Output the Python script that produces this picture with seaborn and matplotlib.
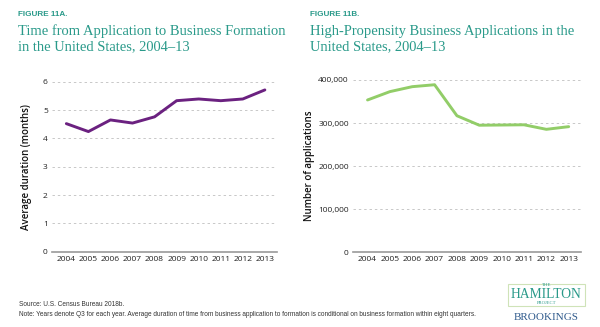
import matplotlib
matplotlib.use("Agg")
import matplotlib.pyplot as plt
import seaborn as sns
import pandas as pd
from matplotlib.patches import Rectangle

years = [2004, 2005, 2006, 2007, 2008, 2009, 2010, 2011, 2012, 2013]
duration_months = [4.52, 4.24, 4.65, 4.54, 4.76, 5.33, 5.39, 5.33, 5.39, 5.71]
applications = [353600, 373000, 384500, 389000, 317000, 295000, 295500, 296000, 285500, 291700]
left_yticks = [0, 1, 2, 3, 4, 5, 6]
right_yticks = [0, 100000, 200000, 300000, 400000]
right_yticklabels = ["0", "100,000", "200,000", "300,000", "400,000"]

sns.set_theme(style="white")
plt.rcParams['font.family'] = ['Open Sans', 'DejaVu Sans']

TEAL = "#2a9a8a"
PURPLE = "#6b2180"
GREEN = "#92cd68"
GRID = "#c8c8c8"
AXIS = "#999999"

df_a = pd.DataFrame({"year": years, "value": duration_months})
df_b = pd.DataFrame({"year": years, "value": applications})

fig = plt.figure(figsize=(6, 3.27), dpi=100)
W, H = 600, 327

def px(x0, y0, x1, y1):
    return [x0 / W, 1 - y1 / H, (x1 - x0) / W, (y1 - y0) / H]

ax1 = fig.add_axes(px(52, 81.7, 277, 251.7))
ax2 = fig.add_axes(px(353, 80, 581, 252.3))

def style(ax, data, color, yticks, ylim, ylabel, ylabels=None):
    sns.lineplot(data=data, x="year", y="value", ax=ax, color=color, linewidth=2.1)
    ax.set_xlim(years[0] - 0.65, years[-1] + 0.55)
    ax.set_ylim(*ylim)
    ax.set_yticks(yticks)
    if ylabels is not None:
        ax.set_yticklabels(ylabels)
    ax.set_xticks(years)
    ax.set_xticklabels([str(y) for y in years])
    ax.tick_params(axis='both', labelsize=6, colors="#222222", length=0, pad=3)
    for s in ["top", "right", "left"]:
        ax.spines[s].set_visible(False)
    ax.spines["bottom"].set_color(AXIS)
    ax.spines["bottom"].set_linewidth(1.2)
    for t in yticks[1:]:
        ax.axhline(t, color=GRID, linewidth=0.7, linestyle=(0, (2.5, 3)), zorder=0)
    ax.set_xlabel("")
    ax.set_ylabel(ylabel, fontsize=7, color="#111111", labelpad=4, weight="semibold")
    ax.set_facecolor("none")

style(ax1, df_a, PURPLE, left_yticks, (0, 6.0), "Average duration (months)")
style(ax2, df_b, GREEN, right_yticks, (0, 400000), "Number of applications", right_yticklabels)
ax1.yaxis.set_label_coords(-0.09, 0.5)
ax2.yaxis.set_label_coords(-0.166, 0.5)

serif = ['Liberation Serif', 'DejaVu Serif']
TS = 10.45
fig.text(18 / W, 1 - 15 / H, "FIGURE 11A.", fontsize=5.9, color=TEAL, weight="bold",
         va="center", ha="left", family=['Liberation Sans', 'DejaVu Sans'])
fig.text(18 / W, 1 - 31 / H, "Time from Application to Business Formation", fontsize=TS,
         color=TEAL, va="center", ha="left", family=serif)
fig.text(18 / W, 1 - 47 / H, "in the United States, 2004\u201313", fontsize=TS,
         color=TEAL, va="center", ha="left", family=serif)
fig.text(310 / W, 1 - 15 / H, "FIGURE 11B.", fontsize=5.9, color=TEAL, weight="bold",
         va="center", ha="left", family=['Liberation Sans', 'DejaVu Sans'])
fig.text(310 / W, 1 - 31 / H, "High-Propensity Business Applications in the", fontsize=TS,
         color=TEAL, va="center", ha="left", family=serif)
fig.text(310 / W, 1 - 47 / H, "United States, 2004\u201313", fontsize=TS,
         color=TEAL, va="center", ha="left", family=serif)

fig.text(19 / W, 1 - 304.5 / H, "Source: U.S. Census Bureau 2018b.", fontsize=4.7,
         color="#333333", va="center", ha="left", family=['Liberation Sans', 'DejaVu Sans'])
fig.text(19 / W, 1 - 315 / H,
         "Note: Years denote Q3 for each year. Average duration of time from business application to formation is conditional on business formation within eight quarters.",
         fontsize=4.7, color="#333333", va="center", ha="left", family=['Liberation Sans', 'DejaVu Sans'])

# logo
fig.patches.append(Rectangle((508 / W, 1 - 306 / H), 77 / W, 22 / H, transform=fig.transFigure,
                             fill=False, edgecolor="#cfe3b8", linewidth=0.8))
fig.text(546.5 / W, 1 - 285.5 / H, "THE", fontsize=3.5, color=TEAL, ha="center", va="center", family=serif)
fig.text(546.5 / W, 1 - 294.5 / H, "HAMILTON", fontsize=9.8, color=TEAL, ha="center", va="center", family=serif)
fig.text(546.5 / W, 1 - 302.8 / H, "PROJECT", fontsize=3.3, color=TEAL, ha="center", va="center", family=serif)
fig.text(546.5 / W, 1 - 317 / H, "BROOKINGS", fontsize=8, color="#2f5a8c", ha="center", va="center", family=serif)

fig.savefig("out.png", dpi=100)
